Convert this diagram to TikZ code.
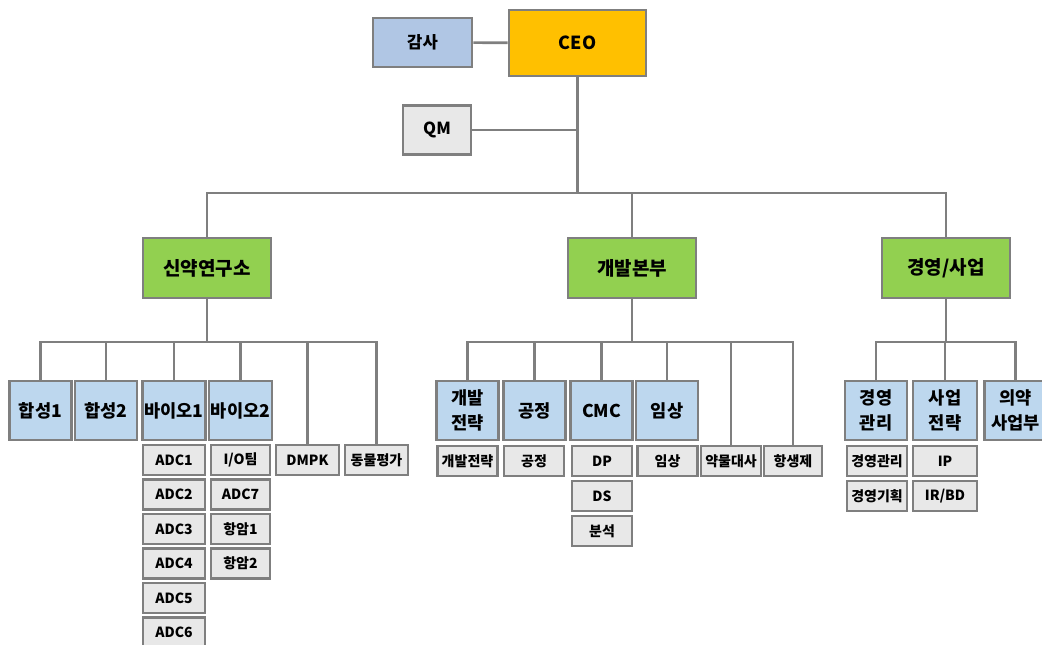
\documentclass[tikz,border=0pt]{standalone}
\usepackage{fontspec}
\setmainfont{Noto Sans CJK KR}
\definecolor{edgegray}{HTML}{7F7F7F}
\definecolor{ceoorange}{HTML}{FFC000}
\definecolor{auditblue}{HTML}{B0C6E4}
\definecolor{divgreen}{HTML}{92D050}
\definecolor{teamblue}{HTML}{BDD7EE}
\definecolor{unitgray}{HTML}{E8E8E8}
\tikzset{
  box/.style={draw=edgegray,line width=1.3pt,inner sep=1pt,align=center},
  ceobox/.style={box,fill=ceoorange,minimum width=68.5pt,minimum height=33pt,font=\bfseries\fontsize{9}{11}\selectfont},
  auxbox/.style={box,minimum height=24.5pt,font=\bfseries\fontsize{8.3}{10}\selectfont},
  divbox/.style={box,fill=divgreen,minimum width=64pt,minimum height=30pt,font=\bfseries\fontsize{9.5}{11}\selectfont},
  teambox/.style={box,fill=teamblue,minimum width=31pt,minimum height=29.5pt,font=\bfseries\fontsize{8.8}{12.5}\selectfont},
  unitbox/.style={box,fill=unitgray,minimum width=30pt,minimum height=15pt,font=\bfseries\fontsize{7}{8}\selectfont},
  link/.style={draw=edgegray,line width=1.3pt}
}
\begin{document}
\begin{tikzpicture}[x=0.5pt,y=-0.5pt]
\useasboundingbox (0,0) rectangle (1042,644);
% top
\node[ceobox] (ceo) at (577.5,43) {CEO};
\node[auxbox,fill=auditblue,minimum width=49.5pt] (audit) at (422.5,42.5) {감사};
\node[auxbox,fill=unitgray,minimum width=34pt] (qm) at (437,130) {QM};
\coordinate (top) at (577.5,193);
\draw[link] (audit) -- (ceo);
\draw[link] (ceo) -- (top);
\draw[link] (qm.east) -- (qm.east -| ceo.south);
% divisions
\node[divbox] (lab) at (207,268) {신약연구소};
\node[divbox] (dev) at (632,268) {개발본부};
\node[divbox] (biz) at (946,268) {경영/사업};
\draw[link] (lab.north) |- (top) -| (biz.north);
\draw[link] (top) -| (dev.north);
% 신약연구소
\node[teambox] (syn1) at (40.5,410.5) {합성1};
\node[teambox] (syn2) at (106,410.5) {합성2};
\node[teambox] (bio1) at (174,410.5) {바이오1};
\node[teambox,minimum width=29.5pt] (bio2) at (240.5,410.5) {바이오2};
\node[unitbox,minimum width=31.5pt] (dmpk) at (307.5,460) {DMPK};
\node[unitbox,minimum width=31.5pt] (animal) at (376.5,460) {동물평가};
\node[unitbox,minimum width=31pt] (adc1) at (174,460) {ADC1};
\node[unitbox,minimum width=31pt] (adc2) at (174,494.5) {ADC2};
\node[unitbox,minimum width=31pt] (adc3) at (174,529) {ADC3};
\node[unitbox,minimum width=31pt] (adc4) at (174,563.5) {ADC4};
\node[unitbox,minimum width=31pt] (adc5) at (174,598) {ADC5};
\node[unitbox,minimum width=31pt] (adc6) at (174,632.5) {ADC6};
\node[unitbox,minimum width=29.5pt] (io) at (240.5,460) {I/O팀};
\node[unitbox,minimum width=29.5pt] (adc7) at (240.5,494.5) {ADC7};
\node[unitbox,minimum width=29.5pt] (onc1) at (240.5,529) {항암1};
\node[unitbox,minimum width=29.5pt] (onc2) at (240.5,563.5) {항암2};
\coordinate (labbus) at (207,342);
\draw[link] (lab) -- (labbus);
\draw[link] (syn1.north) |- (labbus) -| (animal.north);
\foreach \t in {syn2,bio1,bio2,dmpk}
  \draw[link] (\t.north) -- (\t.north |- labbus);
% 개발본부
\node[teambox] (strat) at (467.5,410.5) {개발\\전략};
\node[teambox] (proc) at (534.5,410.5) {공정};
\node[teambox] (cmc) at (601.5,410.5) {CMC};
\node[teambox] (clin) at (667,410.5) {임상};
\node[unitbox] (strat1) at (467.5,461) {개발전략};
\node[unitbox] (proc1) at (534,461) {공정};
\node[unitbox] (dp) at (602,461) {DP};
\node[unitbox] (ds) at (602,496) {DS};
\node[unitbox] (anal) at (602,531) {분석};
\node[unitbox] (clin1) at (667.5,461) {임상};
\node[unitbox] (dmet) at (731,461) {약물대사};
\node[unitbox,minimum width=29pt] (abx) at (793,461) {항생제};
\coordinate (devbus) at (632,342);
\draw[link] (dev) -- (devbus);
\draw[link] (strat.north) |- (devbus) -| (abx.north);
\foreach \t in {proc,cmc,clin,dmet}
  \draw[link] (\t.north) -- (\t.north |- devbus);
% 경영/사업
\node[teambox] (mgmt) at (876,410.5) {경영\\관리};
\node[teambox,minimum width=32pt] (bizst) at (945,410.5) {사업\\전략};
\node[teambox] (pharma) at (1015.5,410.5) {의약\\사업부};
\node[unitbox] (mgmt1) at (877,461) {경영관리};
\node[unitbox] (plan) at (877,496) {경영기획};
\node[unitbox,minimum width=32pt] (ip) at (945,461) {IP};
\node[unitbox,minimum width=32pt] (irbd) at (945,496) {IR/BD};
\coordinate (bizbus) at (946,342);
\draw[link] (biz) -- (bizbus);
\draw[link] (mgmt.north) |- (bizbus) -| (pharma.north);
\draw[link] (bizst.north) -- (bizst.north |- bizbus);
\end{tikzpicture}
\end{document}
